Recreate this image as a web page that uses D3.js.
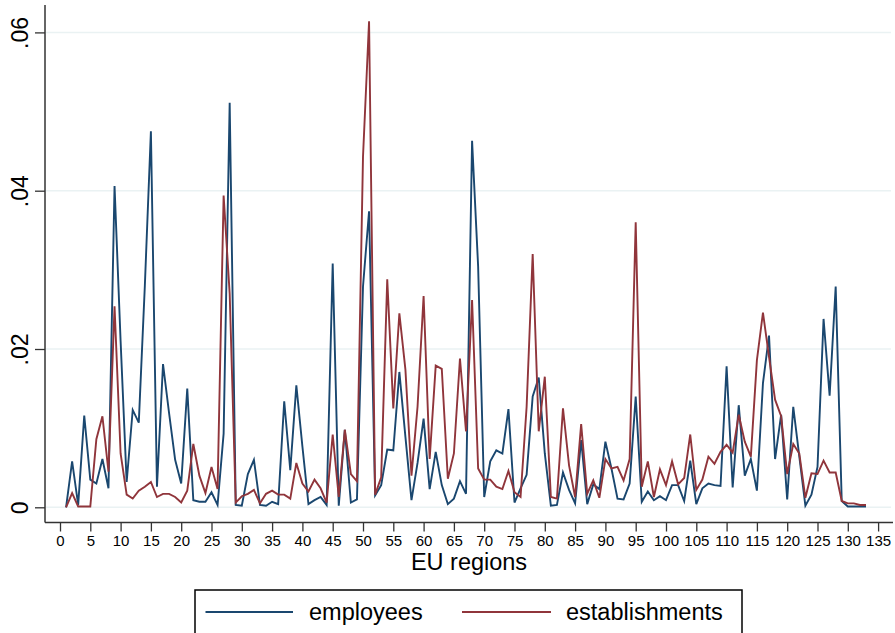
<!DOCTYPE html>
<html>
<head>
<meta charset="utf-8">
<script src="https://cdn.jsdelivr.net/npm/d3@7"></script>
<style>
  html, body { margin: 0; padding: 0; background: #fff; }
  svg { display: block; font-family: "Liberation Sans", Arial, Helvetica, sans-serif; }
</style>
</head>
<body>
<svg id="chart" width="895" height="633"></svg>
<script>
const employees = [
  0.0000, 0.0058, 0.0003, 0.0116, 0.0035, 0.0030, 0.0061, 0.0024, 0.0406, 0.0210,
  0.0032, 0.0123, 0.0107, 0.0280, 0.0475, 0.0026, 0.0181, 0.0119, 0.0060, 0.0030,
  0.0150, 0.0009, 0.0007, 0.0007, 0.0019, 0.0003, 0.0093, 0.0511, 0.0003, 0.0002,
  0.0042, 0.0060, 0.0003, 0.0002, 0.0007, 0.0004, 0.0134, 0.0047, 0.0154, 0.0077,
  0.0004, 0.0009, 0.0013, 0.0003, 0.0308, 0.0002, 0.0098, 0.0006, 0.0010, 0.0279,
  0.0374, 0.0015, 0.0028, 0.0073, 0.0072, 0.0171, 0.0089, 0.0009, 0.0056, 0.0112,
  0.0023, 0.0070, 0.0028, 0.0004, 0.0011, 0.0033, 0.0017, 0.0463, 0.0304, 0.0013,
  0.0058, 0.0072, 0.0068, 0.0124, 0.0006, 0.0024, 0.0041, 0.0140, 0.0164, 0.0068,
  0.0002, 0.0003, 0.0044, 0.0022, 0.0005, 0.0085, 0.0004, 0.0029, 0.0023, 0.0083,
  0.0049, 0.0011, 0.0010, 0.0030, 0.0140, 0.0007, 0.0020, 0.0009, 0.0014, 0.0009,
  0.0028, 0.0028, 0.0008, 0.0059, 0.0004, 0.0024, 0.0030, 0.0028, 0.0027, 0.0178,
  0.0025, 0.0129, 0.0040, 0.0061, 0.0021, 0.0157, 0.0217, 0.0061, 0.0117, 0.0010,
  0.0127, 0.0064, 0.0002, 0.0016, 0.0051, 0.0238, 0.0141, 0.0279, 0.0008, 0.0001,
  0.0001, 0.0001, 0.0001
];
const establishments = [
  0.0000, 0.0018, 0.0001, 0.0001, 0.0001, 0.0086, 0.0115, 0.0045, 0.0254, 0.0068,
  0.0016, 0.0011, 0.0021, 0.0026, 0.0032, 0.0013, 0.0017, 0.0017, 0.0013, 0.0006,
  0.0021, 0.0080, 0.0040, 0.0018, 0.0051, 0.0023, 0.0394, 0.0270, 0.0006, 0.0014,
  0.0017, 0.0022, 0.0005, 0.0017, 0.0021, 0.0016, 0.0016, 0.0011, 0.0056, 0.0030,
  0.0020, 0.0035, 0.0024, 0.0006, 0.0092, 0.0013, 0.0098, 0.0042, 0.0033, 0.0443,
  0.0614, 0.0016, 0.0038, 0.0288, 0.0125, 0.0245, 0.0174, 0.0040, 0.0127, 0.0267,
  0.0061, 0.0179, 0.0175, 0.0036, 0.0068, 0.0188, 0.0096, 0.0262, 0.0049, 0.0035,
  0.0035, 0.0026, 0.0023, 0.0046, 0.0019, 0.0013, 0.0127, 0.0320, 0.0096, 0.0165,
  0.0013, 0.0011, 0.0125, 0.0053, 0.0013, 0.0105, 0.0017, 0.0034, 0.0012, 0.0061,
  0.0049, 0.0051, 0.0034, 0.0061, 0.0360, 0.0026, 0.0058, 0.0013, 0.0048, 0.0028,
  0.0058, 0.0029, 0.0037, 0.0092, 0.0022, 0.0035, 0.0064, 0.0055, 0.0070, 0.0079,
  0.0069, 0.0117, 0.0083, 0.0064, 0.0186, 0.0246, 0.0190, 0.0136, 0.0115, 0.0042,
  0.0080, 0.0068, 0.0012, 0.0043, 0.0042, 0.0059, 0.0044, 0.0044, 0.0008, 0.0005,
  0.0005, 0.0003, 0.0003
];
const regions = d3.range(1, employees.length + 1);
const xTicks = d3.range(0, 136, 5);
const yTicks = [0, 0.02, 0.04, 0.06];
const yTickLabels = ["0", ".02", ".04", ".06"];
const seriesNames = ["employees", "establishments"];
const seriesColors = ["#1a476f", "#90353b"];
const xTitle = "EU regions";

const svg = d3.select("#chart");
const x = d3.scaleLinear().domain([0, 135]).range([60, 878.1]);
const y = d3.scaleLinear().domain([0, 0.06]).range([507.3, 32.4]);
const plotLeft = 45, plotRight = 893, plotTop = 5, plotBottom = 522.5;

// gridlines
svg.append("g").selectAll("line").data(yTicks).join("line")
  .attr("x1", plotLeft + 1).attr("x2", plotRight - 2)
  .attr("y1", d => y(d)).attr("y2", d => y(d))
  .attr("stroke", "#eaf2f3").attr("stroke-width", 1.5);

// lines
const lineGen = d3.line().x((d, i) => x(regions[i])).y(d => y(d));
[employees, establishments].forEach((s, k) => {
  svg.append("path").datum(s)
    .attr("d", lineGen)
    .attr("fill", "none")
    .attr("stroke", seriesColors[k])
    .attr("stroke-width", 1.9)
    .attr("stroke-linejoin", "miter");
});

// x axis
const xAxis = d3.axisBottom(x).tickValues(xTicks).tickSize(9).tickPadding(4).tickFormat(d3.format("d"));
const gx = svg.append("g").attr("transform", `translate(0,${plotBottom})`).call(xAxis);
gx.select(".domain").remove();
gx.append("line").attr("x1", plotLeft).attr("x2", plotRight).attr("y1", 0).attr("y2", 0)
  .attr("stroke", "#333").attr("stroke-width", 1.5);
gx.selectAll(".tick line").attr("stroke", "#333").attr("stroke-width", 1.3);
gx.selectAll(".tick text").attr("font-size", 15).attr("fill", "#000")
  .attr("font-family", "Liberation Sans, Arial, sans-serif");

// y axis
const yAxis = d3.axisLeft(y).tickValues(yTicks).tickSize(10).tickFormat((d, i) => yTickLabels[i]);
const gy = svg.append("g").attr("transform", `translate(${plotLeft},0)`).call(yAxis);
gy.select(".domain").remove();
gy.append("line").attr("x1", 0).attr("x2", 0).attr("y1", plotTop).attr("y2", plotBottom)
  .attr("stroke", "#333").attr("stroke-width", 1.5);
gy.selectAll(".tick line").attr("stroke", "#333").attr("stroke-width", 1.3);
gy.selectAll(".tick text")
  .attr("x", null).attr("dy", null)
  .attr("transform", "translate(-17,0) rotate(-90)")
  .attr("text-anchor", "middle")
  .attr("font-size", 23).attr("fill", "#000")
  .attr("font-family", "Liberation Sans, Arial, sans-serif");

// x title
svg.append("text").attr("x", 469).attr("y", 570)
  .attr("text-anchor", "middle").attr("font-size", 23.5).attr("fill", "#000")
  .text(xTitle);

// legend
const lg = svg.append("g");
lg.append("rect").attr("x", 195).attr("y", 590).attr("width", 547).attr("height", 60)
  .attr("fill", "#fff").attr("stroke", "#000").attr("stroke-width", 1.5);
const legendItems = [
  {x1: 205.5, x2: 293, tx: 309},
  {x1: 462, x2: 551, tx: 566}
];
legendItems.forEach((it, k) => {
  lg.append("line").attr("x1", it.x1).attr("x2", it.x2).attr("y1", 612).attr("y2", 612)
    .attr("stroke", seriesColors[k]).attr("stroke-width", 1.9);
  lg.append("text").attr("x", it.tx).attr("y", 620).attr("font-size", 23.5).attr("fill", "#000")
    .text(seriesNames[k]);
});
</script>
</body>
</html>
